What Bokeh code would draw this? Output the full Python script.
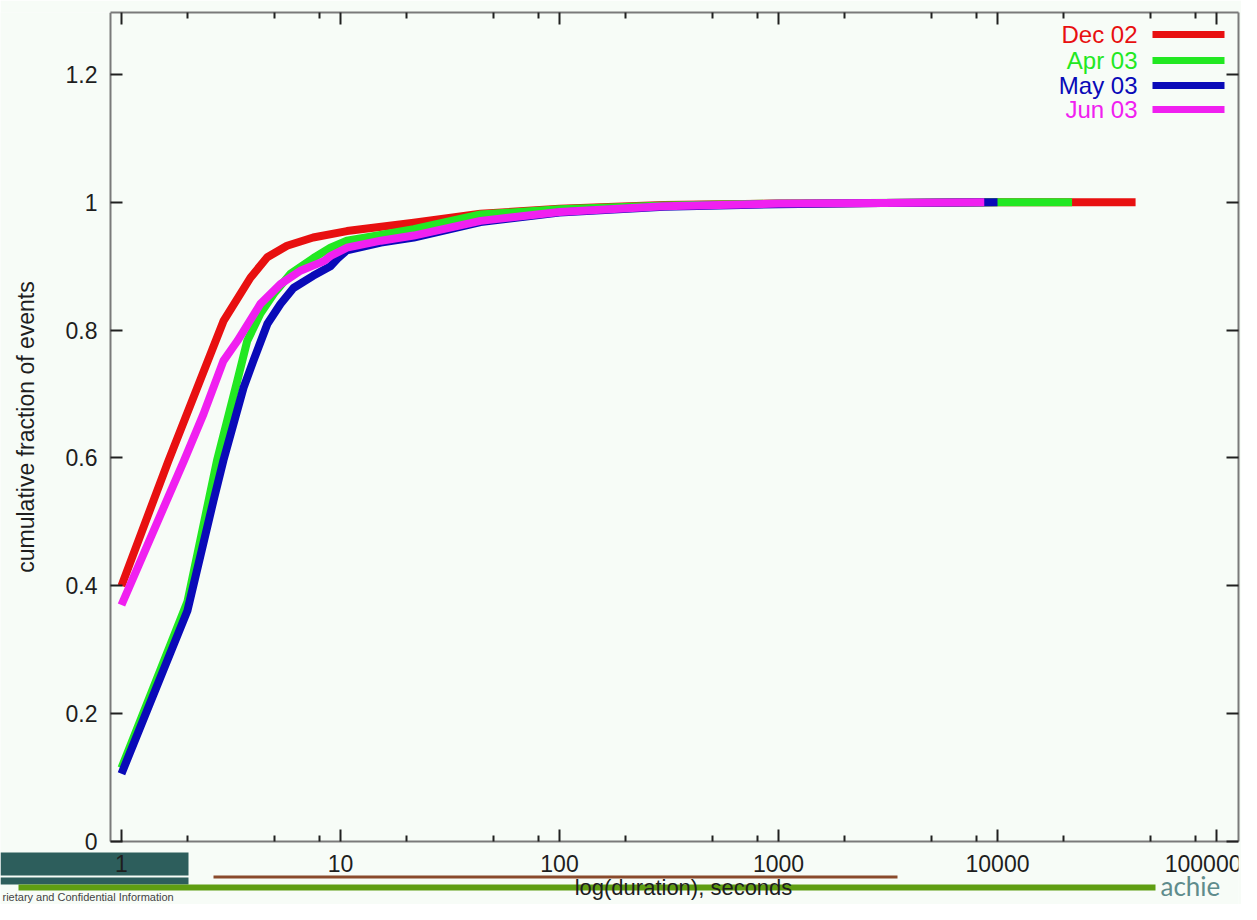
from bokeh.plotting import figure
from bokeh.models import FixedTicker, LogAxis, LinearAxis, Label, BoxAnnotation, Range1d
from bokeh.embed import file_html
from bokeh.resources import INLINE

# ---------------- data ----------------
series_names = ["Dec 02", "Apr 03", "May 03", "Jun 03"]
series_colors = ["#e81010", "#22e822", "#0a0ab8", "#f020f0"]

dec02_x = [1, 1.64, 2.93, 3.88, 4.63, 5.7, 7.5, 10.7, 21.6, 43.6, 100, 300, 1000, 3000, 10000, 42700]
dec02_y = [0.40, 0.596, 0.815, 0.882, 0.914, 0.932, 0.945, 0.955, 0.968, 0.982, 0.990, 0.996, 0.998, 0.999, 1.0, 1.0]

apr03_x = [1, 2, 2.73, 3.38, 3.75, 4.31, 4.96, 5.91, 7.54, 9.0, 10.7, 21.6, 43.6, 100, 300, 1000, 10000, 21900]
apr03_y = [0.115, 0.375, 0.596, 0.721, 0.783, 0.826, 0.857, 0.888, 0.913, 0.929, 0.940, 0.958, 0.981, 0.989, 0.995, 0.998, 1.0, 1.0]

may03_x = [1, 2, 2.63, 2.92, 3.61, 4.0, 4.64, 5.32, 6.1, 7.5, 9.0, 9.7, 10.7, 15.3, 21.6, 43.6, 100, 300, 1000, 3000, 10000]
may03_y = [0.106, 0.361, 0.533, 0.596, 0.710, 0.752, 0.810, 0.841, 0.866, 0.885, 0.900, 0.912, 0.925, 0.937, 0.945, 0.969, 0.984, 0.993, 0.997, 0.999, 1.0]

jun03_x = [1, 1.93, 2.37, 2.92, 3.38, 4.31, 5.32, 6.56, 8.4, 9.0, 10.7, 15.3, 21.6, 43.6, 100, 300, 1000, 3000, 8700]
jun03_y = [0.37, 0.596, 0.669, 0.752, 0.783, 0.841, 0.872, 0.893, 0.908, 0.916, 0.929, 0.940, 0.948, 0.971, 0.985, 0.994, 0.998, 0.999, 1.0]

x_tick_values = [1, 10, 100, 1000, 10000, 100000]
x_tick_labels = ["1", "10", "100", "1000", "10000", "100000"]
x_minor_ticks = [2, 5, 8, 20, 50, 80, 200, 500, 800, 2000, 5000, 8000, 20000, 50000, 80000]
y_tick_values = [0, 0.2, 0.4, 0.6, 0.8, 1.0, 1.2]
y_tick_labels = ["0", "0.2", "0.4", "0.6", "0.8", "1", "1.2"]

x_label = "log(duration), seconds"
y_label = "cumulative fraction of events"
footer_text = "rietary and Confidential Information"
logo_text = "achie"

all_x = [dec02_x, apr03_x, may03_x, jun03_x]
all_y = [dec02_y, apr03_y, may03_y, jun03_y]

# ---------------- figure ----------------
BG = "#f7fcf7"
FONT = "Liberation Sans"
TXT = "#1e1e1e"
BORDER = "#7a7a7a"

# plotted box (axes box) limits, and the full view that also holds the slide footer
X_LO, X_HI = 0.891, 126000
Y_LO, Y_HI = 0.0, 1.297
VIEW_X_LO, VIEW_Y_LO = 0.2803, -0.0986

p = figure(width=1241, height=904, x_axis_type="log",
           x_range=Range1d(VIEW_X_LO, X_HI), y_range=Range1d(VIEW_Y_LO, Y_HI),
           output_backend="svg", toolbar_location=None,
           min_border_left=0, min_border_top=12, min_border_right=3, min_border_bottom=0)
p.background_fill_color = BG
p.border_fill_color = BG
p.outline_line_color = None
p.grid.visible = False

xt = FixedTicker(ticks=x_tick_values, minor_ticks=x_minor_ticks)
yt = FixedTicker(ticks=y_tick_values, minor_ticks=[])

def style_axis(ax, show_labels):
    ax.axis_line_color = BORDER
    ax.axis_line_width = 2
    ax.major_tick_in = 12
    ax.major_tick_out = 0
    ax.minor_tick_in = 6
    ax.minor_tick_out = 0
    ax.major_tick_line_color = "#202020"
    ax.major_tick_line_width = 2
    ax.minor_tick_line_color = "#202020"
    ax.minor_tick_line_width = 2
    if show_labels:
        ax.major_label_text_font = FONT
        ax.major_label_text_font_size = "23px"
        ax.major_label_text_color = TXT
        ax.axis_label_text_font = FONT
        ax.axis_label_text_font_size = "23px"
        ax.axis_label_text_font_style = "normal"
        ax.axis_label_text_color = TXT
    else:
        ax.major_label_text_font_size = "1px"
        ax.major_label_text_alpha = 0
        ax.major_label_standoff = 0

xa = p.xaxis[0]
xa.ticker = xt
xa.major_label_overrides = {v: s for v, s in zip(x_tick_values, x_tick_labels)}
style_axis(xa, True)
xa.major_label_standoff = 14
xa.fixed_location = Y_LO
xa.bounds = (X_LO, X_HI)

ya = p.yaxis[0]
ya.ticker = yt
ya.major_label_overrides = {v: s for v, s in zip(y_tick_values, y_tick_labels)}
style_axis(ya, True)
ya.major_label_standoff = 13
ya.axis_label = y_label
ya.axis_label_standoff = 24
ya.fixed_location = X_LO
ya.bounds = (Y_LO, Y_HI)

top = LogAxis(ticker=xt, bounds=(X_LO, X_HI))
style_axis(top, False)
p.add_layout(top, "above")
right = LinearAxis(ticker=yt, bounds=(Y_LO, Y_HI))
style_axis(right, False)
p.add_layout(right, "right")

for xs, ys, c in zip(all_x, all_y, series_colors):
    p.line(xs, ys, line_color=c, line_width=8, line_join="round")

# legend (gnuplot style: text then sample line)
legend_rows = [34, 60, 85, 109]
for name, c, yy in zip(series_names, series_colors, legend_rows):
    p.add_layout(Label(x=1137, y=yy, x_units="canvas", y_units="canvas", text=name,
                       text_align="right", text_baseline="middle", text_font=FONT,
                       text_font_size="24px", text_color=c))
    p.add_layout(BoxAnnotation(left=1152, right=1224, top=yy - 3.5, bottom=yy + 3.5,
                               left_units="canvas", right_units="canvas",
                               top_units="canvas", bottom_units="canvas",
                               fill_color=c, fill_alpha=1, line_color=None, level="overlay"))

# slide decorations under the chart
deco = [
    (0, 188, 852, 875, "#2d5e5c"),
    (0, 188, 877, 884, "#2d5e5c"),
    (213, 897, 875, 878, "#8a4a2c"),
    (18, 1155, 884, 890, "#5f9e12"),
]
for l, r, t, b, c in deco:
    p.add_layout(BoxAnnotation(left=l, right=r, top=t, bottom=b,
                               left_units="canvas", right_units="canvas",
                               top_units="canvas", bottom_units="canvas",
                               fill_color=c, fill_alpha=1, line_color=None, level="underlay"))

p.add_layout(Label(x=683, y=887, x_units="canvas", y_units="canvas", text=x_label,
                   text_align="center", text_baseline="middle", text_font=FONT,
                   text_font_size="22px", text_color=TXT, level="overlay"))
p.add_layout(Label(x=1160, y=885, x_units="canvas", y_units="canvas", text=logo_text,
                   text_align="left", text_baseline="middle", text_font="Lato",
                   text_font_size="26px", text_color="#5f8c8c", level="overlay"))
p.add_layout(Label(x=2, y=896, x_units="canvas", y_units="canvas", text=footer_text,
                   text_align="left", text_baseline="middle", text_font=FONT,
                   text_font_size="11px", text_color="#444444", level="overlay"))

open("out.html", "w").write(file_html(p, INLINE))
